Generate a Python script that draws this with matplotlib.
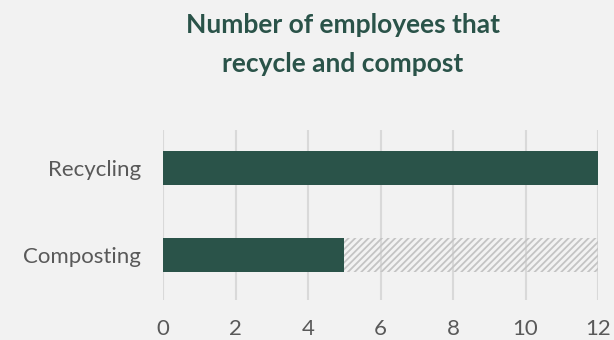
import matplotlib
matplotlib.use("Agg")
import matplotlib.pyplot as plt

# data
categories = ["Composting", "Recycling"]
counts = [5, 12]
total = [12, 12]
x_ticks = [0, 2, 4, 6, 8, 10, 12]
title_lines = ["Number of employees that", "recycle and compost"]

GREEN = "#2A5349"
BG = "#F2F2F2"

plt.rcParams["font.family"] = ["Lato", "DejaVu Sans"]
plt.rcParams["hatch.color"] = "#C4C4C4"
plt.rcParams["hatch.linewidth"] = 1.3

fig = plt.figure(figsize=(6.14, 3.4), dpi=100)
fig.patch.set_facecolor(BG)
ax = fig.add_axes([0.2655, 0.1176, 0.7085, 0.5])
ax.set_facecolor(BG)

remain = [t - c for t, c in zip(total, counts)]
ax.barh(categories, remain, left=counts, height=0.39, color="none",
        hatch="/////", linewidth=0, zorder=2)
ax.barh(categories, counts, height=0.39, color=GREEN, zorder=3)

ax.set_xlim(0, 12)
ax.set_ylim(-0.51, 1.43)
ax.set_xticks(x_ticks)
ax.grid(axis="x", color="#D9D9D9", linewidth=1.5, zorder=0)
ax.set_axisbelow(True)
for sp in ax.spines.values():
    sp.set_visible(False)
ax.tick_params(length=0, labelsize=16, labelcolor="#595959")
ax.tick_params(axis="x", pad=14)
ax.tick_params(axis="y", pad=16)

# title, two centred lines
for line, yb in zip(title_lines, [0.903, 0.788]):
    fig.text(0.5586, yb, line, ha="center", va="baseline", fontsize=19,
             fontweight="bold", color=GREEN)

fig.savefig("out.png", dpi=100, facecolor=BG)
